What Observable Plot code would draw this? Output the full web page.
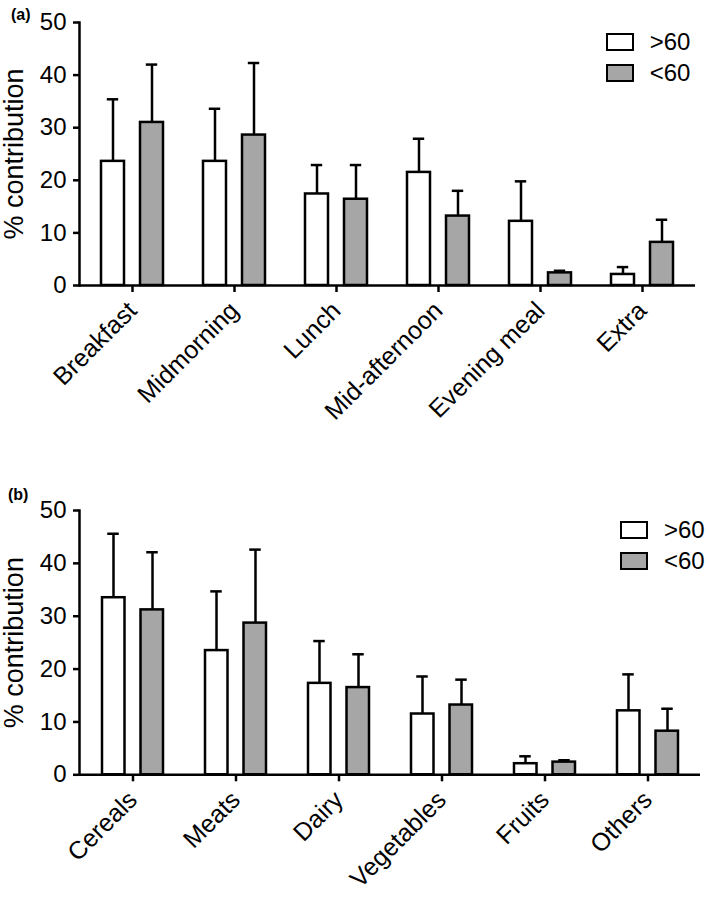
<!DOCTYPE html>
<html>
<head>
<meta charset="utf-8">
<script src="https://cdn.jsdelivr.net/npm/d3@7"></script>
<script src="https://cdn.jsdelivr.net/npm/@observablehq/plot@0.6"></script>
<style>
  html, body { margin: 0; padding: 0; background: #fff; }
  body { font-family: "Liberation Sans", Arial, Helvetica, sans-serif; }
  #wrap { position: relative; width: 709px; height: 899px; overflow: hidden; }
  .panel { position: absolute; left: 0; width: 709px; }
  .plabel { position: absolute; font-weight: bold; font-size: 16px; color: #000; }
  .legend { position: absolute; font-size: 24px; color: #000; }
  .legend .row { position: absolute; left: 0; display: flex; align-items: center; white-space: nowrap; }
  .legend .box { width: 24px; height: 14px; border: 2.5px solid #000; margin-right: 16px; }
</style>
</head>
<body>
<div id="wrap"></div>
<script>
// ---------- data ----------
const groups = [">60", "<60"];
const groupFill = ["#ffffff", "#a6a6a6"];

// Panel (a): meals
const mealCategories = ["Breakfast", "Midmorning", "Lunch", "Mid-afternoon", "Evening meal", "Extra"];
const mealOver60 = [23.6, 23.6, 17.4, 21.5, 12.2, 2.1];
const mealOver60Sd = [11.8, 10.0, 5.5, 6.4, 7.6, 1.4];
const mealUnder60 = [31.0, 28.6, 16.4, 13.2, 2.4, 8.2];
const mealUnder60Sd = [11.0, 13.7, 6.5, 4.8, 0.4, 4.3];

// Panel (b): food groups
const foodCategories = ["Cereals", "Meats", "Dairy", "Vegetables", "Fruits", "Others"];
const foodOver60 = [33.5, 23.5, 17.3, 11.5, 2.1, 12.1];
const foodOver60Sd = [12.1, 11.2, 8.0, 7.1, 1.4, 6.9];
const foodUnder60 = [31.2, 28.7, 16.5, 13.2, 2.4, 8.25];
const foodUnder60Sd = [10.9, 13.9, 6.3, 4.8, 0.35, 4.25];

const yTicks = [0, 10, 20, 30, 40, 50];
const yLabel = "% contribution";

function rowsOf(cats, vals, sds, group) {
  return cats.map((c, i) => ({cat: c, group, value: vals[i], top: vals[i] + sds[i]}));
}

function makePanel(cfg) {
  const over = rowsOf(cfg.cats, cfg.over, cfg.overSd, groups[0]);
  const under = rowsOf(cfg.cats, cfg.under, cfg.underSd, groups[1]);
  const sw = 2.5;
  return Plot.plot({
    width: 709,
    height: cfg.height,
    marginLeft: 79,
    marginRight: cfg.marginRight,
    marginTop: cfg.marginTop,
    marginBottom: cfg.marginBottom,
    style: {fontFamily: '"Liberation Sans", Arial, Helvetica, sans-serif', fontSize: "24px", background: "#fff", overflow: "visible", color: "#000"},
    x: {type: "band", domain: cfg.cats, paddingInner: 0, paddingOuter: 0},
    y: {domain: [0, 50]},
    marks: [
      Plot.barY(over, {x: "cat", y: "value", fill: groupFill[0], stroke: "#000", strokeWidth: sw, insetLeft: cfg.inA, insetRight: cfg.inB}),
      Plot.barY(under, {x: "cat", y: "value", fill: groupFill[1], stroke: "#000", strokeWidth: sw, insetLeft: cfg.inB, insetRight: cfg.inA}),
      Plot.ruleX(over, {x: "cat", y1: "value", y2: "top", dx: -cfg.off, stroke: "#000", strokeWidth: sw}),
      Plot.ruleX(under, {x: "cat", y1: "value", y2: "top", dx: cfg.off, stroke: "#000", strokeWidth: sw}),
      Plot.tickY(over, {x: "cat", y: "top", dx: -cfg.off, insetLeft: cfg.cap, insetRight: cfg.cap, stroke: "#000", strokeWidth: sw}),
      Plot.tickY(under, {x: "cat", y: "top", dx: cfg.off, insetLeft: cfg.cap, insetRight: cfg.cap, stroke: "#000", strokeWidth: sw}),
      Plot.ruleY([0], {stroke: "#000", strokeWidth: sw}),
      Plot.frame({anchor: "left", stroke: "#000", strokeWidth: sw}),
      Plot.axisY({ticks: yTicks, tickSize: 6, tickPadding: 7, strokeWidth: sw, fontSize: 24, label: null}),
      Plot.axisX({tickSize: 7, tickRotate: -45, tickPadding: 14, strokeWidth: sw, fontSize: 25, label: null}),
      Plot.text([yLabel], {text: d => d, frameAnchor: "left", rotate: -90, dx: -65, fontSize: 27, textAnchor: "middle"})
    ]
  });
}

const wrap = document.getElementById("wrap");

function addPanel(top, label, cfg, legendPos) {
  const div = document.createElement("div");
  div.className = "panel";
  div.style.top = top + "px";
  div.appendChild(makePanel(cfg));
  const lab = document.createElement("div");
  lab.className = "plabel";
  lab.textContent = label;
  lab.style.left = legendPos.labX + "px";
  lab.style.top = legendPos.labY + "px";
  div.appendChild(lab);
  const leg = document.createElement("div");
  leg.className = "legend";
  leg.style.left = legendPos.x + "px";
  leg.style.top = legendPos.y + "px";
  groups.forEach((g, i) => {
    const row = document.createElement("div");
    row.className = "row";
    row.style.top = (i * 30.5) + "px";
    const box = document.createElement("div");
    box.className = "box";
    box.style.background = groupFill[i];
    const t = document.createElement("span");
    t.textContent = g;
    row.appendChild(box);
    row.appendChild(t);
    leg.appendChild(row);
  });
  div.appendChild(leg);
  wrap.appendChild(div);
}

addPanel(0, "(a)", {
  cats: mealCategories, over: mealOver60, overSd: mealOver60Sd, under: mealUnder60, underSd: mealUnder60Sd,
  height: 488, marginTop: 22, marginBottom: 203, marginRight: 14,
  inA: 20, inB: 59, off: 19.5, cap: 45.3
}, {x: 605.7, y: 28, labX: 11, labY: 6});

addPanel(488, "(b)", {
  cats: foodCategories, over: foodOver60, overSd: foodOver60Sd, under: foodUnder60, underSd: foodUnder60Sd,
  height: 411, marginTop: 22, marginBottom: 124.7, marginRight: 9,
  inA: 21, inB: 59.5, off: 19.5, cap: 45.75
}, {x: 620, y: 28, labX: 8, labY: -2});
</script>
</body>
</html>
